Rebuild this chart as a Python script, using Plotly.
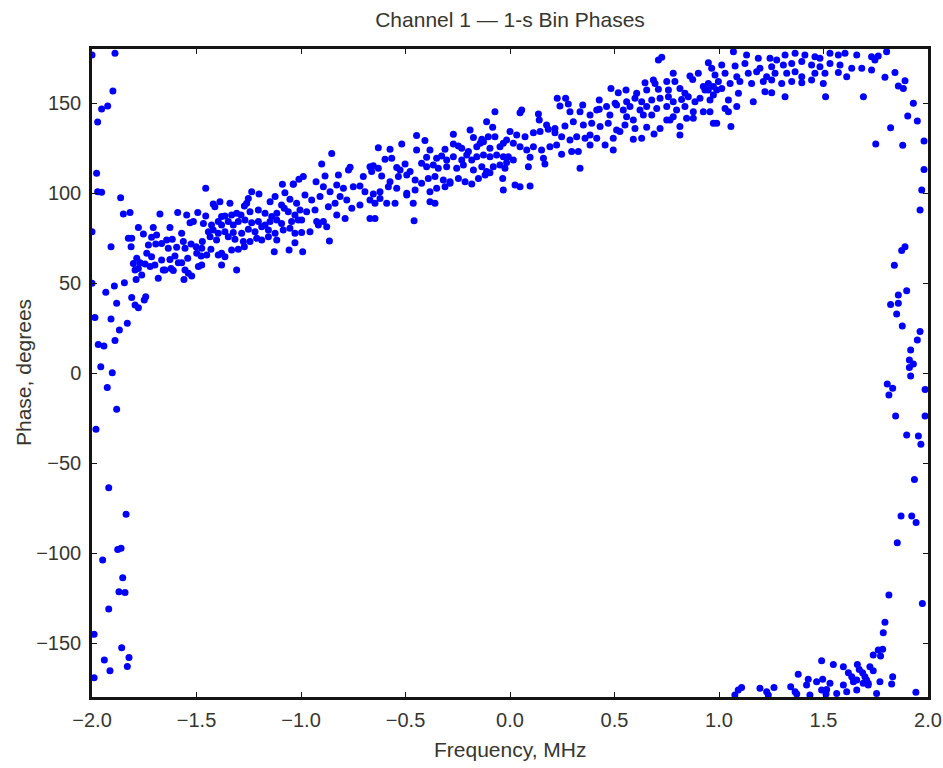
import plotly.graph_objects as go

# Phase of each 1-s bin vs. frequency offset (MHz, degrees).
# Main rising band of phases.
band_low = [
    (-1.456, 102.6), (-1.420, 93.9), (-1.412, 92.4), (-1.388, 95.2), (-1.340, 94.3), (-1.252, 97.0),
    (-1.260, 94.3), (-1.236, 100.7), (-1.201, 99.4), (-1.271, 92.8), (-1.148, 95.2), (-1.124, 98.0),
    (-1.089, 104.8), (-1.077, 100.2), (-1.037, 104.8), (-1.010, 107.6), (-1.053, 96.5), (-1.093, 93.3),
    (-1.080, 91.5), (-1.675, 88.3), (-1.590, 89.1), (-1.547, 87.8), (-1.494, 89.1), (-1.456, 87.2),
    (-1.380, 86.9), (-1.364, 87.2), (-1.332, 87.8), (-1.308, 88.7), (-1.287, 87.8), (-1.244, 89.6),
    (-1.204, 90.6), (-1.172, 88.7), (-1.140, 86.9), (-1.116, 88.7), (-1.061, 89.6), (-1.029, 87.8),
    (-1.531, 83.5), (-1.515, 84.1), (-1.467, 83.1), (-1.428, 82.2), (-1.396, 84.1), (-1.380, 82.2),
    (-1.348, 84.1), (-1.324, 82.2), (-1.300, 84.1), (-1.268, 85.0), (-1.236, 83.5), (-1.204, 84.1),
    (-1.172, 82.2), (-1.148, 84.1), (-1.116, 85.0), (-1.093, 83.1), (-1.045, 84.1), (-1.013, 85.0),
    (-1.778, 80.9), (-1.707, 80.9), (-1.627, 80.9), (-1.571, 77.6), (-1.443, 78.5), (-1.420, 79.4),
    (-1.396, 77.6), (-1.364, 78.5), (-1.324, 78.0), (-1.284, 77.6), (-1.252, 79.8), (-1.220, 78.5),
    (-1.188, 81.3), (-1.156, 79.4), (-1.124, 77.6), (-1.085, 79.4), (-1.053, 80.4), (-1.826, 74.8),
    (-1.810, 74.8), (-1.754, 77.2), (-1.715, 75.4), (-1.691, 76.7), (-1.643, 73.9), (-1.616, 74.3),
    (-1.563, 73.0), (-1.472, 73.0), (-1.435, 75.7), (-1.404, 73.9), (-1.348, 75.7), (-1.316, 74.3),
    (-1.276, 73.0), (-1.244, 73.0), (-1.212, 74.8), (-1.188, 73.9), (-1.156, 75.7), (-1.116, 73.9),
    (-1.029, 72.4), (-1.813, 70.2), (-1.730, 71.1), (-1.695, 71.7), (-1.667, 72.0), (-1.635, 69.3),
    (-1.595, 69.8), (-1.555, 69.3), (-1.526, 71.7), (-1.502, 70.2), (-1.475, 69.3), (-1.431, 68.7),
    (-1.380, 66.5), (-1.332, 68.3), (-1.300, 68.7), (-1.271, 70.2), (-1.128, 67.4), (-1.057, 68.3),
    (-1.786, 63.7), (-1.738, 66.5), (-1.715, 64.6), (-1.667, 62.8), (-1.627, 63.1), (-1.603, 65.0),
    (-1.571, 61.3), (-1.542, 63.7), (-1.499, 66.5), (-1.478, 65.0), (-1.451, 65.6), (-1.396, 65.6),
    (-1.364, 64.6), (-1.802, 60.9), (-1.770, 61.3), (-1.746, 60.6), (-1.722, 59.1), (-1.699, 60.0),
    (-1.651, 57.2), (-1.622, 58.1), (-1.587, 61.3), (-1.555, 57.2), (-1.539, 55.4), (-1.523, 53.9),
    (-1.491, 59.1), (-1.475, 60.0), (-1.380, 60.0), (-1.794, 57.2), (-1.778, 58.1), (-1.762, 54.4),
    (-1.683, 52.6), (-1.659, 57.2), (-1.611, 56.9), (-1.560, 52.0), (-1.308, 57.2), (-1.789, 52.0),
]

band_mid_low = [
    (-0.072, 145.2), (-0.112, 139.6), (-0.083, 136.5), (-0.191, 135.0), (-0.271, 132.6), (-0.447, 131.9),
    (-0.407, 129.1), (-0.175, 130.9), (-0.135, 129.8), (-0.104, 131.3), (-0.072, 131.3), (-0.518, 127.2),
    (-0.630, 125.2), (-0.574, 124.3), (-0.447, 123.9), (-0.383, 123.9), (-0.311, 124.3), (-0.271, 127.2),
    (-0.247, 126.1), (-0.231, 124.8), (-0.199, 123.0), (-0.159, 125.7), (-0.143, 127.6), (-0.127, 128.5),
    (-0.096, 124.8), (-0.048, 125.7), (-0.032, 127.6), (-0.853, 122.0), (-0.598, 118.7), (-0.566, 119.3),
    (-0.399, 119.8), (-0.351, 119.3), (-0.327, 120.6), (-0.303, 118.3), (-0.271, 120.2), (-0.231, 118.3),
    (-0.207, 121.1), (-0.183, 118.3), (-0.159, 120.2), (-0.127, 121.1), (-0.096, 120.2), (-0.064, 121.1),
    (-0.032, 120.2), (-0.901, 116.1), (-0.765, 114.3), (-0.670, 114.6), (-0.654, 115.2), (-0.630, 113.7),
    (-0.542, 114.1), (-0.526, 112.8), (-0.502, 116.1), (-0.478, 111.9), (-0.423, 116.5), (-0.399, 114.6),
    (-0.367, 115.6), (-0.343, 113.7), (-0.303, 114.6), (-0.255, 113.7), (-0.223, 115.6), (-0.175, 112.8),
    (-0.135, 114.6), (-0.112, 111.9), (-0.080, 114.6), (-0.048, 115.6), (-0.989, 109.1), (-1.037, 105.0),
    (-0.885, 109.4), (-0.821, 110.0), (-0.773, 112.8), (-0.702, 109.1), (-0.662, 111.9), (-0.614, 109.4),
    (-0.574, 106.3), (-0.534, 109.1), (-0.494, 110.0), (-0.454, 107.2), (-0.423, 105.4), (-0.391, 108.1),
    (-0.359, 109.1), (-0.319, 107.2), (-0.287, 106.3), (-0.247, 108.1), (-0.215, 106.3), (-0.183, 105.0),
    (-0.151, 108.1), (-0.119, 110.0), (-0.096, 111.3), (-0.035, 108.1), (-0.928, 106.3), (-0.893, 103.5),
    (-0.861, 100.7), (-0.829, 104.4), (-0.797, 102.6), (-0.750, 103.5), (-0.718, 103.9), (-0.694, 100.7),
    (-0.654, 99.4), (-0.622, 100.7), (-0.582, 103.5), (-0.542, 102.6), (-0.494, 99.8), (-0.454, 101.7),
    (-0.383, 100.7), (-0.351, 102.6), (-0.311, 103.5), (-0.287, 105.4), (-0.032, 101.7), (-0.981, 98.9),
    (-0.949, 96.1), (-0.909, 98.0), (-0.869, 92.4), (-0.837, 94.3), (-0.813, 98.0), (-0.781, 96.1),
    (-0.757, 91.5), (-0.718, 93.3), (-0.670, 96.1), (-0.646, 94.3), (-0.622, 97.0), (-0.590, 94.3),
    (-0.550, 94.3), (-0.494, 98.9), (-0.463, 94.3), (-0.383, 95.2), (-0.359, 94.3), (-1.021, 94.3),
    (-1.005, 90.6), (-0.973, 89.6), (-0.933, 90.6), (-0.893, 84.1), (-0.925, 84.1), (-0.829, 87.8),
    (-0.789, 85.9), (-0.670, 85.9), (-0.646, 85.9), (-0.459, 84.6), (-0.997, 85.0), (-0.957, 78.5),
    (-0.917, 82.2), (-0.877, 81.3), (-0.997, 78.0), (-0.992, 67.4), (-0.864, 73.3), (-1.029, 77.6),
]

band_mid_high = [
    (0.710, 173.9), (0.726, 175.4), (0.949, 172.4), (0.781, 166.5), (0.901, 166.5), (0.861, 165.0),
    (0.874, 163.1), (0.686, 162.8), (0.646, 161.3), (0.694, 160.9), (0.750, 161.9), (0.789, 161.9),
    (0.483, 158.1), (0.518, 155.7), (0.555, 157.2), (0.606, 155.4), (0.654, 157.2), (0.710, 157.6),
    (0.758, 157.2), (0.813, 158.1), (0.837, 155.4), (0.925, 159.1), (0.949, 157.2), (0.973, 154.4),
    (0.427, 151.7), (0.503, 149.8), (0.558, 150.7), (0.598, 152.6), (0.630, 150.7), (0.678, 151.7),
    (0.718, 152.6), (0.758, 153.5), (0.781, 150.7), (0.821, 152.0), (0.853, 153.5), (0.885, 150.7),
    (0.909, 152.6), (0.957, 151.7), (0.226, 152.6), (0.266, 152.6), (0.239, 148.3), (0.279, 149.4),
    (0.348, 148.9), (0.427, 146.5), (0.462, 148.0), (0.510, 148.9), (0.542, 146.1), (0.574, 148.0),
    (0.622, 146.1), (0.654, 148.0), (0.702, 147.0), (0.750, 148.0), (0.797, 146.1), (0.837, 148.0),
    (0.877, 145.2), (0.925, 145.2), (0.048, 144.6), (0.056, 146.1), (0.136, 143.9), (0.287, 145.2),
    (0.335, 145.2), (0.383, 143.3), (0.415, 146.1), (0.478, 143.3), (0.558, 142.4), (0.590, 140.6),
    (0.638, 143.3), (0.678, 143.3), (0.750, 140.6), (0.781, 142.4), (0.845, 141.5), (0.973, 138.7),
    (0.140, 140.6), (0.175, 137.8), (0.215, 135.9), (0.263, 137.2), (0.303, 139.6), (0.351, 137.8),
    (0.391, 138.7), (0.431, 136.9), (0.470, 138.7), (0.510, 135.0), (0.550, 137.8), (0.598, 135.9),
    (0.654, 136.5), (0.718, 135.9), (0.766, 140.6), (0.813, 132.2), (0.813, 136.9), (0.877, 141.5),
    (0.000, 134.1), (0.032, 132.2), (0.072, 131.3), (0.112, 133.5), (0.144, 134.1), (0.183, 135.4),
    (0.215, 133.5), (0.247, 131.3), (0.287, 129.4), (0.319, 131.3), (0.359, 130.4), (0.383, 132.2),
    (0.415, 130.4), (0.455, 126.7), (0.494, 130.4), (0.494, 123.9), (0.526, 134.1), (0.590, 129.8),
    (0.630, 130.4), (0.689, 132.8), (-0.016, 129.4), (0.016, 127.6), (0.048, 125.7), (0.080, 123.9),
    (0.112, 125.7), (0.151, 123.9), (0.191, 125.7), (0.223, 126.7), (0.247, 121.5), (0.295, 123.0),
    (0.327, 123.0), (0.383, 126.7), (0.335, 113.7), (-0.008, 120.2), (0.016, 118.3), (-0.024, 113.7),
    (-0.016, 116.9), (0.088, 114.6), (0.096, 119.8), (0.160, 119.3), (0.167, 116.1), (0.024, 104.4),
    (0.048, 103.5), (0.096, 103.9),
]

band_high = [
    (1.069, 178.5), (1.132, 176.7), (1.188, 174.8), (1.244, 174.8), (1.276, 173.9), (1.316, 176.7),
    (1.364, 177.6), (1.411, 176.7), (1.459, 175.7), (1.483, 174.8), (1.531, 177.6), (1.571, 176.7),
    (1.603, 177.6), (1.659, 176.7), (1.730, 175.7), (1.762, 176.1), (1.802, 178.5), (1.013, 171.1),
    (1.077, 170.6), (1.124, 172.0), (1.196, 169.3), (1.252, 170.2), (1.308, 171.1), (1.348, 172.0),
    (1.396, 173.0), (1.443, 171.1), (1.483, 170.2), (1.531, 172.0), (1.579, 171.1), (1.635, 169.3),
    (1.683, 169.3), (1.730, 168.3), (1.746, 173.9), (1.794, 164.3), (1.842, 167.0), (1.890, 162.4),
    (0.981, 165.6), (1.029, 166.5), (1.085, 164.6), (1.140, 166.5), (1.180, 167.4), (1.228, 164.6),
    (1.268, 166.5), (1.324, 166.5), (1.364, 167.4), (1.396, 164.6), (1.459, 166.5), (1.507, 166.5),
    (1.571, 167.0), (1.611, 164.6), (0.965, 169.3), (0.997, 161.9), (0.973, 159.1), (0.949, 160.9),
    (1.013, 158.1), (1.053, 160.9), (1.100, 161.9), (1.156, 160.9), (1.212, 161.9), (1.252, 162.8),
    (1.300, 160.9), (1.348, 161.9), (1.396, 161.3), (1.443, 162.8), (1.499, 160.9), (1.858, 159.4),
    (1.882, 158.1), (0.933, 157.2), (0.989, 157.2), (1.045, 151.7), (1.093, 155.4), (1.164, 150.7),
    (1.220, 156.3), (1.252, 155.7), (1.316, 153.5), (0.957, 145.2), (1.029, 147.0), (1.045, 145.2),
    (1.085, 148.0), (0.989, 138.7), (1.057, 136.9), (1.510, 153.5), (1.691, 153.5),
]

# Phases that wrapped through +/-180 near the band edges.
wrap_left = [
    (-2.000, 176.7), (-1.890, 177.6), (-1.900, 156.7), (-1.925, 148.3), (-1.954, 146.7), (-1.973, 139.4),
    (-1.978, 111.0), (-1.973, 100.7), (-1.954, 100.4), (-1.863, 97.4), (-1.850, 88.3), (-1.818, 89.1),
    (-2.000, 78.5), (-1.909, 70.2), (-2.000, 49.8), (-1.934, 44.8), (-1.893, 48.3), (-1.845, 50.2),
    (-1.882, 38.7), (-1.810, 42.0), (-1.794, 37.8), (-1.778, 36.3), (-1.743, 42.4), (-1.750, 40.6),
    (-1.986, 30.9), (-1.909, 30.0), (-1.831, 27.6), (-1.869, 23.9), (-1.890, 18.0), (-1.970, 15.9),
    (-1.943, 15.0), (-1.958, 3.5), (-1.903, 0.2), (-1.927, -8.1), (-1.882, -20.2), (-1.981, -31.3),
    (-1.920, -63.7), (-1.837, -78.5), (-1.877, -98.1), (-1.861, -97.4), (-1.949, -103.9), (-1.853, -113.7),
    (-1.871, -121.5), (-1.842, -122.0), (-1.920, -131.1), (-1.990, -145.2), (-1.858, -152.6), (-1.823, -158.1),
    (-1.941, -159.4), (-1.914, -165.4), (-1.831, -163.1), (-1.990, -169.3),
]

wrap_right = [
    (1.930, 149.8), (1.903, 142.8), (1.949, 140.0), (1.821, 136.3), (1.750, 127.2), (1.879, 126.5),
    (1.981, 128.9), (1.981, 113.1), (1.970, 101.7), (1.962, 90.6), (1.890, 70.2), (1.874, 68.0),
    (1.839, 59.8), (1.898, 45.7), (1.858, 43.3), (1.821, 38.1), (1.858, 38.7), (1.850, 32.8),
    (1.877, 26.1), (1.962, 23.0), (1.949, 18.3), (1.917, 12.8), (1.911, 7.2), (1.930, 5.0),
    (1.911, 3.1), (1.917, -1.7), (1.805, -6.1), (1.831, -8.5), (1.813, -12.2), (1.986, -9.1),
    (1.845, -23.9), (1.986, -23.9), (1.898, -34.4), (1.954, -35.0), (1.966, -39.6), (1.935, -59.1),
    (1.871, -79.4), (1.922, -79.4), (1.943, -83.1), (1.853, -94.3), (1.813, -123.3), (1.973, -128.0),
    (1.794, -138.5), (1.786, -144.3),
]

wrap_bottom = [
    (1.738, -156.7), (1.762, -153.9), (1.783, -153.5), (1.773, -157.2), (1.491, -159.8), (1.547, -161.9),
    (1.595, -163.2), (1.662, -161.9), (1.671, -164.7), (1.722, -163.2), (1.738, -165.4), (1.619, -166.5),
    (1.635, -168.7), (1.687, -166.5), (1.698, -168.7), (1.706, -170.6), (1.714, -172.4), (1.379, -167.4),
    (1.427, -170.2), (1.467, -171.5), (1.496, -170.2), (1.419, -173.4), (1.531, -172.4), (1.595, -173.4),
    (1.643, -171.5), (1.659, -170.6), (1.690, -172.4), (1.770, -171.5), (1.831, -168.7), (1.826, -172.8),
    (1.108, -174.7), (1.092, -176.1), (1.196, -175.2), (1.263, -174.7), (1.343, -174.3), (1.228, -177.1),
    (1.364, -177.1), (1.491, -176.1), (1.515, -175.8), (1.563, -178.0), (1.611, -177.1), (1.659, -176.1),
    (1.714, -173.4), (1.076, -178.9), (1.236, -178.9), (1.372, -178.4), (1.435, -178.9), (1.512, -178.4),
    (1.754, -178.0), (1.942, -177.4),
]

x_ticks = [-2.0, -1.5, -1.0, -0.5, 0.0, 0.5, 1.0, 1.5, 2.0]
y_ticks = [-150, -100, -50, 0, 50, 100, 150]

points = band_low + band_mid_low + band_mid_high + band_high + wrap_left + wrap_right + wrap_bottom
freq = [p[0] for p in points]
phase = [p[1] for p in points]

FONT = "Liberation Sans, Arial, Helvetica, sans-serif"
TEXT = "#36362f"

fig = go.Figure(
    go.Scatter(
        x=freq, y=phase, mode="markers",
        marker=dict(color="#0000ff", size=7, line=dict(width=0)),
        cliponaxis=True, hoverinfo="skip",
    )
)

axis_common = dict(
    showgrid=False, zeroline=False, showline=True, mirror="ticks",
    linecolor="#141414", linewidth=2.5, ticks="inside", ticklen=5,
    tickwidth=1, tickcolor="#141414", automargin=False,
    tickfont=dict(family=FONT, size=20, color=TEXT),
)

fig.update_layout(
    width=943, height=768,
    margin=dict(l=92, r=15, t=49, b=71, autoexpand=False),
    paper_bgcolor="white", plot_bgcolor="white",
    showlegend=False,
    font=dict(family=FONT, color=TEXT),
    title=dict(
        text="Channel 1 \u2014 1-s Bin Phases",
        x=0.5, xref="paper", y=1 - 20 / 768, yref="container",
        xanchor="center", yanchor="middle",
        font=dict(family=FONT, size=21, color=TEXT),
    ),
    xaxis=dict(range=[-2, 2], tickvals=x_ticks, tickformat=".1f",
               ticklabelstandoff=3, ticklabeloverflow="allow",
               **axis_common),
    yaxis=dict(range=[-180, 180], tickvals=y_ticks, tickformat="d",
               ticklabelstandoff=4, **axis_common),
    annotations=[
        dict(text="Frequency, MHz", x=0.5, y=0, xref="paper", yref="paper",
             xanchor="center", yanchor="middle", yshift=-52, showarrow=False,
             font=dict(family=FONT, size=21, color=TEXT)),
        dict(text="Phase, degrees", x=0, y=0.5, xref="paper", yref="paper",
             xanchor="center", yanchor="middle", xshift=-69, textangle=-90,
             showarrow=False, font=dict(family=FONT, size=21, color=TEXT)),
    ],
)

fig.write_html("out.html")
